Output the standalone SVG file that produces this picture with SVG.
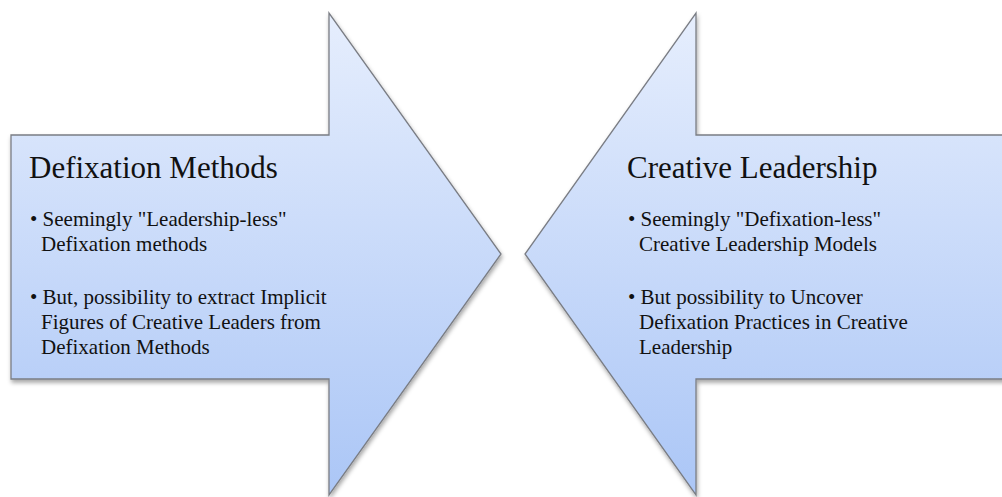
<svg xmlns="http://www.w3.org/2000/svg" width="1002" height="497" viewBox="0 0 1002 497">
<defs>
<linearGradient id="fill" gradientUnits="userSpaceOnUse" x1="0" y1="13" x2="0" y2="495">
<stop offset="0" stop-color="#e6eefd"/>
<stop offset="1" stop-color="#abc6f6"/>
</linearGradient>
<filter id="shadow" x="-10%" y="-10%" width="120%" height="125%">
<feDropShadow dx="1" dy="3" stdDeviation="2.2" flood-color="#000" flood-opacity="0.35"/>
</filter>
</defs>
<style>
.arrow{fill:url(#fill);stroke:#7a7d84;stroke-width:1.3;filter:url(#shadow)}
.t{font-family:"Liberation Serif","Times New Roman",serif;fill:#111}
.h{font-size:31px}
.b{font-size:21px}
</style>
<g id="connectors"></g>
<g id="node-left">
<polygon class="arrow" points="11,135 329,135 329,13 501,254 329,495 329,379 11,379"/>
<text class="t h" x="29" y="178">Defixation Methods</text>
<text class="t b" x="30" y="226">• Seemingly "Leadership-less"</text>
<text class="t b" x="41" y="251">Defixation methods</text>
<text class="t b" x="30" y="304">• But, possibility to extract Implicit</text>
<text class="t b" x="41" y="329">Figures of Creative Leaders from</text>
<text class="t b" x="41" y="354">Defixation Methods</text>
</g>
<g id="node-right">
<polygon class="arrow" points="1012,135 696,135 696,13 525,254 696,495 696,379 1012,379"/>
<text class="t h" x="627" y="178">Creative Leadership</text>
<text class="t b" x="628" y="226">• Seemingly "Defixation-less"</text>
<text class="t b" x="639" y="251">Creative Leadership Models</text>
<text class="t b" x="628" y="304">• But possibility to Uncover</text>
<text class="t b" x="639" y="329">Defixation Practices in Creative</text>
<text class="t b" x="639" y="354">Leadership</text>
</g>
</svg>
